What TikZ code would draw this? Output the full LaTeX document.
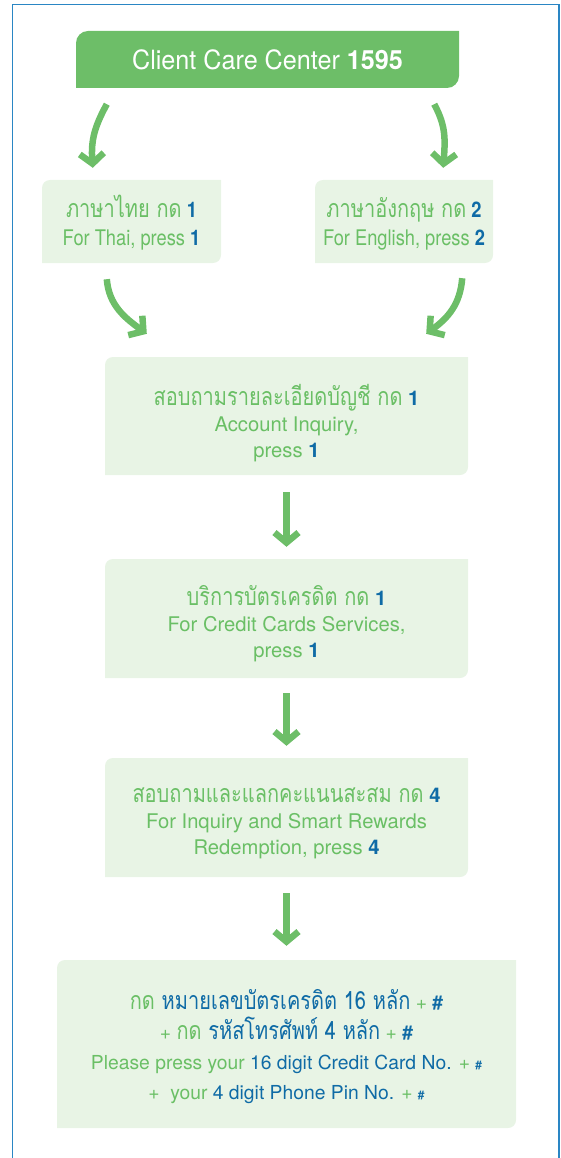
\documentclass[tikz,border=0pt]{standalone}
\usepackage{fontspec}
\setmainfont{TeX Gyre Heros}
\newfontfamily\narrowfont[FakeStretch=0.85]{TeX Gyre Heros}
\newfontfamily\headfont[FakeStretch=0.95]{TeX Gyre Heros}
\newfontfamily\thaifont[Script=Thai, FakeStretch=0.8]{Loma}
\usetikzlibrary{arrows.meta}
\definecolor{headgreen}{HTML}{6DBE68}
\definecolor{txtgreen}{HTML}{6ABF65}
\definecolor{keyblue}{HTML}{0F6BA6}
\definecolor{panelfill}{HTML}{E8F4E5}
\definecolor{frameblue}{HTML}{2A86C4}
\newcommand{\presskey}[1]{\textcolor{keyblue}{\textbf{#1}}}
\newcommand{\blu}[1]{\textcolor{keyblue}{#1}}
\newcommand{\thaisize}{\thaifont\fontsize{25}{25}\selectfont}

\tikzset{
  corners/.style 2 args={path picture={
    \fill[#1] (path picture bounding box.south west)
      -- ([yshift=-#2]path picture bounding box.north west)
      arc[start angle=180, end angle=90, radius=#2]
      -- (path picture bounding box.north east)
      -- ([yshift=#2]path picture bounding box.south east)
      arc[start angle=0, end angle=-90, radius=#2]
      -- cycle;}},
  panel/.style 2 args={minimum width=#1, minimum height=#2, inner sep=0pt,
    align=center, text=txtgreen, fill=white, corners={panelfill}{8pt},
    text depth=0pt},
  langbox/.style={panel={#1}{83pt}, text height=47pt,
    font=\narrowfont\fontsize{21.5}{28}\selectfont},
  headbox/.style={minimum width=383pt, minimum height=57pt, inner sep=0pt,
    text=white, fill=white, corners={headgreen}{12pt},
    font=\headfont\fontsize{26.5}{26.5}\selectfont},
  flow/.style={draw=headgreen, line width=6.5pt,
    -{Straight Barb[length=10pt,width=24pt]}},
}

\begin{document}
\begin{tikzpicture}[x=1pt, y=-1pt]
  \useasboundingbox (0,0) rectangle (560,1158);
  \draw[frameblue, line width=1.6pt] (12.5,1158) |- (559,4.5) -- (559,1158);

  \node[headbox] (title) at (267.5,59.5) {Client Care Center \textbf{1595}};
  \node[langbox={179pt}] (thai) at (131.5,221.5)
    {{\thaisize ภาษาไทย กด} \presskey{1}\\ For Thai, press \presskey{1}};
  \node[langbox={178pt}] (eng) at (404,221.5)
    {{\thaisize ภาษาอังกฤษ กด} \presskey{2}\\ For English, press \presskey{2}};
  \node[panel={363pt}{118pt}, text height=82pt, font=\fontsize{20.2}{26}\selectfont] (acct) at (286.5,416)
    {{\thaisize สอบถามรายละเอียดบัญชี กด} \presskey{1}\\ Account Inquiry,\\ press \presskey{1}};
  \node[panel={363pt}{119pt}, text height=77pt, font=\fontsize{20.2}{26}\selectfont] (card) at (286.5,618.5)
    {{\thaisize บริการบัตรเครดิต กด} \presskey{1}\\ For Credit Cards Services,\\ press \presskey{1}};
  \node[panel={363pt}{119pt}, text height=73pt, font=\fontsize{20.2}{26}\selectfont] (reward) at (286.5,817.5)
    {{\thaisize สอบถามและแลกคะแนนสะสม กด} \presskey{4}\\ For Inquiry and Smart Rewards\\ Redemption, press \presskey{4}};
  \node[panel={459pt}{168pt}, text height=110pt, font=\fontsize{19.3}{30}\selectfont] (pin) at (286.5,1044)
    {{\thaisize กด \blu{หมายเลขบัตรเครดิต 16 หลัก}} + \presskey{\#}\\
     + {\thaisize กด \blu{รหัสโทรศัพท์ 4 หลัก}} + \presskey{\#}\\
     Please press your \blu{16 digit Credit Card No.} + \presskey{\fontsize{12}{12}\selectfont\#}\\
     +~ your \blu{4 digit Phone Pin No.} + \presskey{\fontsize{12}{12}\selectfont\#}};

  \draw[flow] ([xshift=31pt,yshift=-16pt]title.south west) .. controls +(-12,22) and +(-2,-28) .. ([xshift=51pt,yshift=12pt]thai.north west);
  \draw[flow] ([xshift=-25pt,yshift=-16pt]title.south east) .. controls +(12,22) and +(2,-28) .. ([xshift=-50pt,yshift=12pt]eng.north east);
  \draw[flow] ([xshift=65pt,yshift=-16pt]thai.south west) .. controls +(2,26) and +(-22,-16) .. ([xshift=42pt,yshift=23pt]acct.north west);
  \draw[flow] ([xshift=-31pt,yshift=-15pt]eng.south east) .. controls +(-2,26) and +(22,-16) .. ([xshift=-42pt,yshift=23pt]acct.north east);
  \draw[flow, shorten <=17pt, shorten >=12pt] (acct.south) -- (card.north);
  \draw[flow, shorten <=15pt, shorten >=12pt] (card.south) -- (reward.north);
  \draw[flow, shorten <=16pt, shorten >=14pt] (reward.south) -- (pin.north);
\end{tikzpicture}
\end{document}
